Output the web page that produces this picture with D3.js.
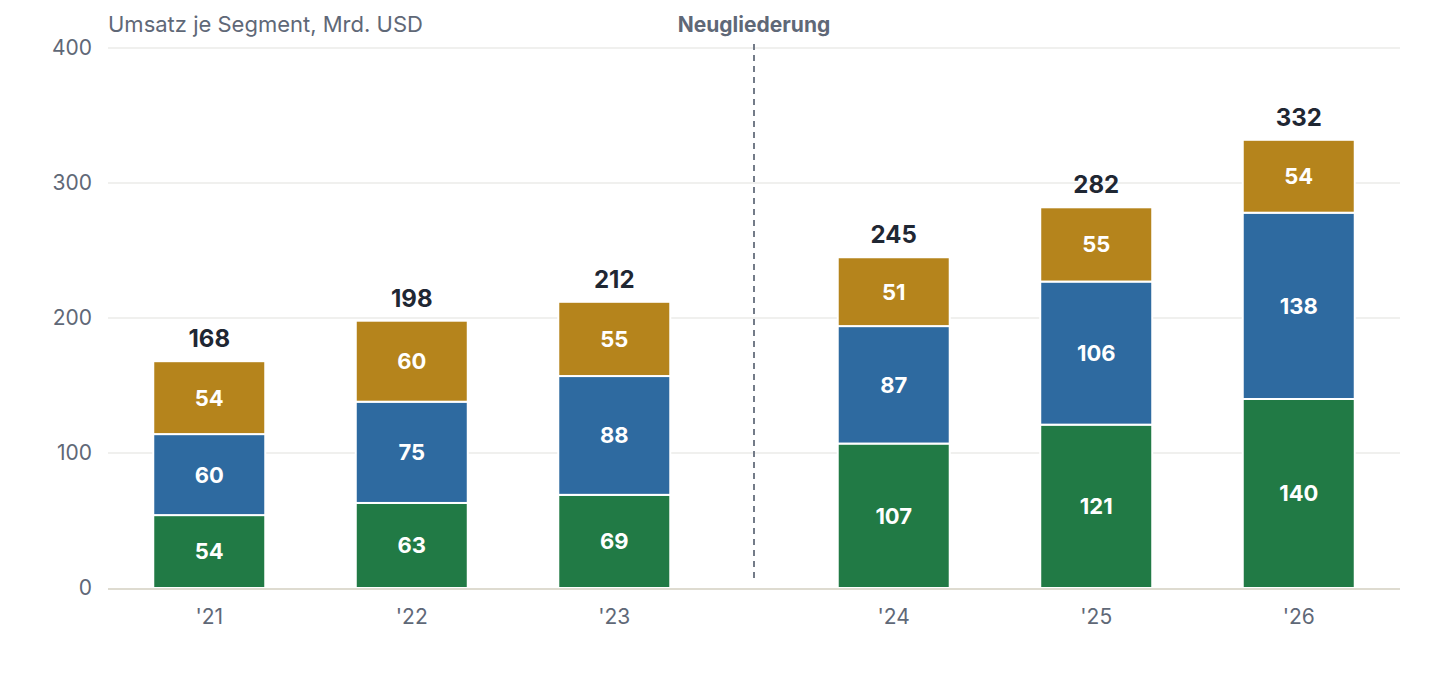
<!DOCTYPE html>
<html>
<head>
<meta charset="utf-8">
<script src="https://cdn.jsdelivr.net/npm/d3@7"></script>
<style>
  body { margin: 0; background: #fff; }
  svg { font-family: Inter, "Noto Sans", sans-serif; }
</style>
</head>
<body>
<div id="wrapper"></div>
<script>
// data
const years = ["'21", "'22", "'23", "'24", "'25", "'26"]
const green = [54, 63, 69, 107, 121, 140]
const blue = [60, 75, 88, 87, 106, 138]
const gold = [54, 60, 55, 51, 55, 54]
const totals = [168, 198, 212, 245, 282, 332]
const yTicks = [0, 100, 200, 300, 400]
const segments = ["green", "blue", "gold"]

const colors = { green: "#217a45", blue: "#2e6aa0", gold: "#b5841c" }

const dimensions = {
  width: 1440,
  height: 680,
  margins: { top: 48, right: 40, bottom: 92, left: 108 }
}
dimensions.boundedWidth = dimensions.width - dimensions.margins.left - dimensions.margins.right
dimensions.boundedHeight = dimensions.height - dimensions.margins.top - dimensions.margins.bottom

const svg = d3.select("#wrapper").append("svg")
  .attr("width", dimensions.width)
  .attr("height", dimensions.height)

const bounds = svg.append("g")
  .attr("transform", `translate(${dimensions.margins.left},${dimensions.margins.top})`)

// slot position, with a gap after the third year
const gap = 0.38
const slot = i => i < 3 ? i : i + gap
const xScale = d3.scaleLinear()
  .domain([-0.5, 5 + gap + 0.5])
  .range([0, dimensions.boundedWidth])
const yScale = d3.scaleLinear()
  .domain([0, 400])
  .range([dimensions.boundedHeight, 0])

const barWidth = 112

// grid
bounds.append("g").selectAll("line")
  .data(yTicks.filter(d => d > 0))
  .join("line")
  .attr("x1", 0).attr("x2", dimensions.boundedWidth)
  .attr("y1", d => yScale(d)).attr("y2", d => yScale(d))
  .attr("stroke", "#ebebe8").attr("stroke-width", 1.5)

// y axis
const yAxis = d3.axisLeft(yScale).tickValues(yTicks).tickSize(0).tickPadding(16)
bounds.append("g").call(yAxis)
  .call(g => g.select(".domain").remove())
  .call(g => g.selectAll("text")
    .attr("font-size", 21).attr("fill", "#5f6877").attr("font-family", "Inter"))

// stacked data
const table = years.map((y, i) => ({ year: y, i, green: green[i], blue: blue[i], gold: gold[i] }))
const stacked = d3.stack().keys(segments)(table)

const layers = bounds.append("g").selectAll("g")
  .data(stacked)
  .join("g")
  .attr("fill", d => colors[d.key])

layers.selectAll("rect")
  .data(d => d)
  .join("rect")
  .attr("x", d => xScale(slot(d.data.i)) - barWidth / 2)
  .attr("width", barWidth)
  .attr("y", d => yScale(d[1]))
  .attr("height", d => yScale(d[0]) - yScale(d[1]))
  .attr("stroke", "#fff")
  .attr("stroke-width", 2)

layers.selectAll("text")
  .data(d => d.map(p => ({ p, key: d.key })))
  .join("text")
  .attr("x", d => xScale(slot(d.p.data.i)))
  .attr("y", d => yScale((d.p[0] + d.p[1]) / 2))
  .attr("dy", "0.36em")
  .attr("text-anchor", "middle")
  .attr("fill", "#fff")
  .attr("font-size", 22)
  .attr("font-weight", 700)
  .text(d => d.p.data[d.key])

// baseline
bounds.append("line")
  .attr("x1", 0).attr("x2", dimensions.boundedWidth)
  .attr("y1", yScale(0) + 1).attr("y2", yScale(0) + 1)
  .attr("stroke", "#dedbd0").attr("stroke-width", 2)

// totals
bounds.append("g").selectAll("text")
  .data(totals)
  .join("text")
  .attr("x", (d, i) => xScale(slot(i)))
  .attr("y", d => yScale(d) - 14)
  .attr("text-anchor", "middle")
  .attr("fill", "#1f2733")
  .attr("font-size", 24)
  .attr("font-weight", 700)
  .text(d => d)

// x axis labels
bounds.append("g").selectAll("text")
  .data(years)
  .join("text")
  .attr("x", (d, i) => xScale(slot(i)))
  .attr("y", dimensions.boundedHeight + 36)
  .attr("text-anchor", "middle")
  .attr("fill", "#5f6877")
  .attr("font-size", 21)
  .text(d => d)

// break marker
const breakX = xScale((2 + 3 + gap) / 2)
bounds.append("line")
  .attr("x1", breakX).attr("x2", breakX)
  .attr("y1", -4).attr("y2", dimensions.boundedHeight - 6)
  .attr("stroke", "#737b88").attr("stroke-width", 2)
  .attr("stroke-dasharray", "6 5")

bounds.append("text")
  .attr("x", breakX)
  .attr("y", -16)
  .attr("text-anchor", "middle")
  .attr("fill", "#5f6877")
  .attr("font-size", 21)
  .attr("font-weight", 700)
  .text("Neugliederung")

// title
bounds.append("text")
  .attr("x", 0)
  .attr("y", -16)
  .attr("fill", "#5f6877")
  .attr("font-size", 22)
  .text("Umsatz je Segment, Mrd. USD")
</script>
</body>
</html>
